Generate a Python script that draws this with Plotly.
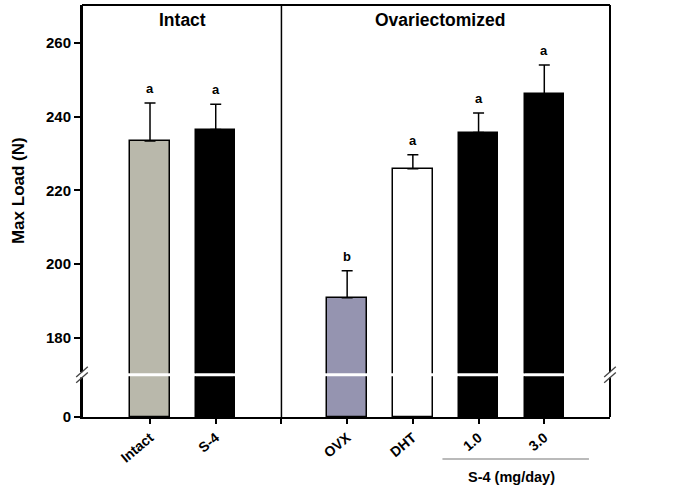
import plotly.graph_objects as go

categories = ["Intact", "S-4", "OVX", "DHT", "1.0", "3.0"]
groups = ["Intact", "Intact", "Ovariectomized", "Ovariectomized", "Ovariectomized", "Ovariectomized"]
means = [233.4, 236.5, 190.9, 225.9, 235.7, 246.1]
sems = [10.3, 6.9, 7.3, 3.8, 5.3, 7.9]
letters = ["a", "a", "b", "a", "a", "a"]
colors = ["#b9b8ab", "#000000", "#9594b0", "#ffffff", "#000000", "#000000"]

# x positions: one empty slot separates the two groups
xpos = [i + (1 if g == "Ovariectomized" else 0) for i, g in enumerate(groups)]
divider = 2

fig = go.Figure()
FONT = "Liberation Sans, Arial, sans-serif"

for ax in ["y", "y2"]:
    fig.add_trace(go.Bar(
        x=xpos, y=means, width=0.6, yaxis=ax,
        marker=dict(color=colors, line=dict(color="black", width=1.5)),
        error_y=dict(type="data", array=sems, arrayminus=[0] * len(sems), symmetric=False,
                     color="black", thickness=1.5, width=5.5) if ax == "y2" else None,
        showlegend=False, hoverinfo="skip",
    ))

fig.update_layout(
    width=684, height=491,
    margin=dict(l=82, r=74, t=5, b=74),
    plot_bgcolor="white", paper_bgcolor="white",
    bargap=0,
    xaxis=dict(range=[-1.035, 7.0], tickvals=[0, 1, 2, 3, 4, 5, 6],
               ticktext=["Intact", "S-4", "", "OVX", "DHT", "1.0", "3.0"],
               tickangle=-40, ticks="outside", ticklen=5, tickwidth=1.5, tickcolor="black",
               showline=True, linecolor="black", linewidth=2, showgrid=False, zeroline=False,
               tickfont=dict(family=FONT, size=14, color="black", weight="bold"),
               anchor="y"),
    yaxis=dict(domain=[0, 0.099], range=[0, 20], tickvals=[0], ticktext=["0"],
               ticks="outside", ticklen=6, tickwidth=1.5, tickcolor="black",
               showline=True, linecolor="black", linewidth=2, showgrid=False, zeroline=False,
               tickfont=dict(family=FONT, size=15, color="black", weight="bold")),
    yaxis2=dict(domain=[0.106, 1], range=[170.4, 270.3], tickvals=[180, 200, 220, 240, 260],
                ticks="outside", ticklen=6, tickwidth=1.5, tickcolor="black",
                showline=True, linecolor="black", linewidth=2, showgrid=False, zeroline=False,
                tickfont=dict(family=FONT, size=15, color="black", weight="bold"),
                anchor="x"),
)

shapes = []
# frame: top, right, left continuous
shapes.append(dict(type="line", xref="paper", yref="paper", x0=0, x1=1, y0=1, y1=1,
                   line=dict(color="black", width=2)))
shapes.append(dict(type="line", xref="paper", yref="paper", x0=1, x1=1, y0=0, y1=1,
                   line=dict(color="black", width=2)))
shapes.append(dict(type="line", xref="paper", yref="paper", x0=0, x1=0, y0=0, y1=1,
                   line=dict(color="black", width=2)))
# divider between groups
shapes.append(dict(type="line", xref="x", yref="paper", x0=divider, x1=divider, y0=0, y1=1,
                   line=dict(color="black", width=1.5)))
# break marks "//" on both axis edges
for px in [0, 1]:
    shapes.append(dict(type="rect", xref="paper", yref="paper", x0=px - 0.004, x1=px + 0.004,
                       y0=0.096, y1=0.109, fillcolor="white", line=dict(width=0)))
    for dy in [0, 0.014]:
        shapes.append(dict(type="line", xref="paper", yref="paper",
                           x0=px - 0.011, x1=px + 0.011, y0=0.083 + dy, y1=0.108 + dy,
                           line=dict(color="#444", width=1.3)))
# underline for S-4 dose group
shapes.append(dict(type="line", xref="x", yref="paper", x0=4.45, x1=6.68, y0=-0.102, y1=-0.102,
                   line=dict(color="#777", width=1.2)))
fig.update_layout(shapes=shapes)

ann = []
for x, m, s, l in zip(xpos, means, sems, letters):
    ann.append(dict(x=x, y=m + s, xref="x", yref="y2", text=l, showarrow=False,
                    yanchor="bottom", yshift=5,
                    font=dict(family=FONT, size=13, color="black", weight="bold")))
ann.append(dict(x=0.5, y=1, xref="x", yref="paper", text="Intact", showarrow=False,
                yanchor="top", yshift=-3,
                font=dict(family=FONT, size=17.5, color="black", weight="bold")))
ann.append(dict(x=4.42, y=1, xref="x", yref="paper", text="Ovariectomized", showarrow=False,
                yanchor="top", yshift=-3,
                font=dict(family=FONT, size=17.5, color="black", weight="bold")))
ann.append(dict(x=5.5, y=-0.145, xref="x", yref="paper", text="S-4 (mg/day)", showarrow=False,
                yanchor="middle",
                font=dict(family=FONT, size=14.5, color="black", weight="bold")))
ann.append(dict(x=-0.12, y=0.55, xref="paper", yref="paper", text="Max Load (N)", showarrow=False,
                textangle=-90, xanchor="center", yanchor="middle",
                font=dict(family=FONT, size=17, color="black", weight="bold")))
fig.update_layout(annotations=ann)

fig.write_html("out.html", config={"displayModeBar": False},
               post_script="document.body.style.margin='0';")
